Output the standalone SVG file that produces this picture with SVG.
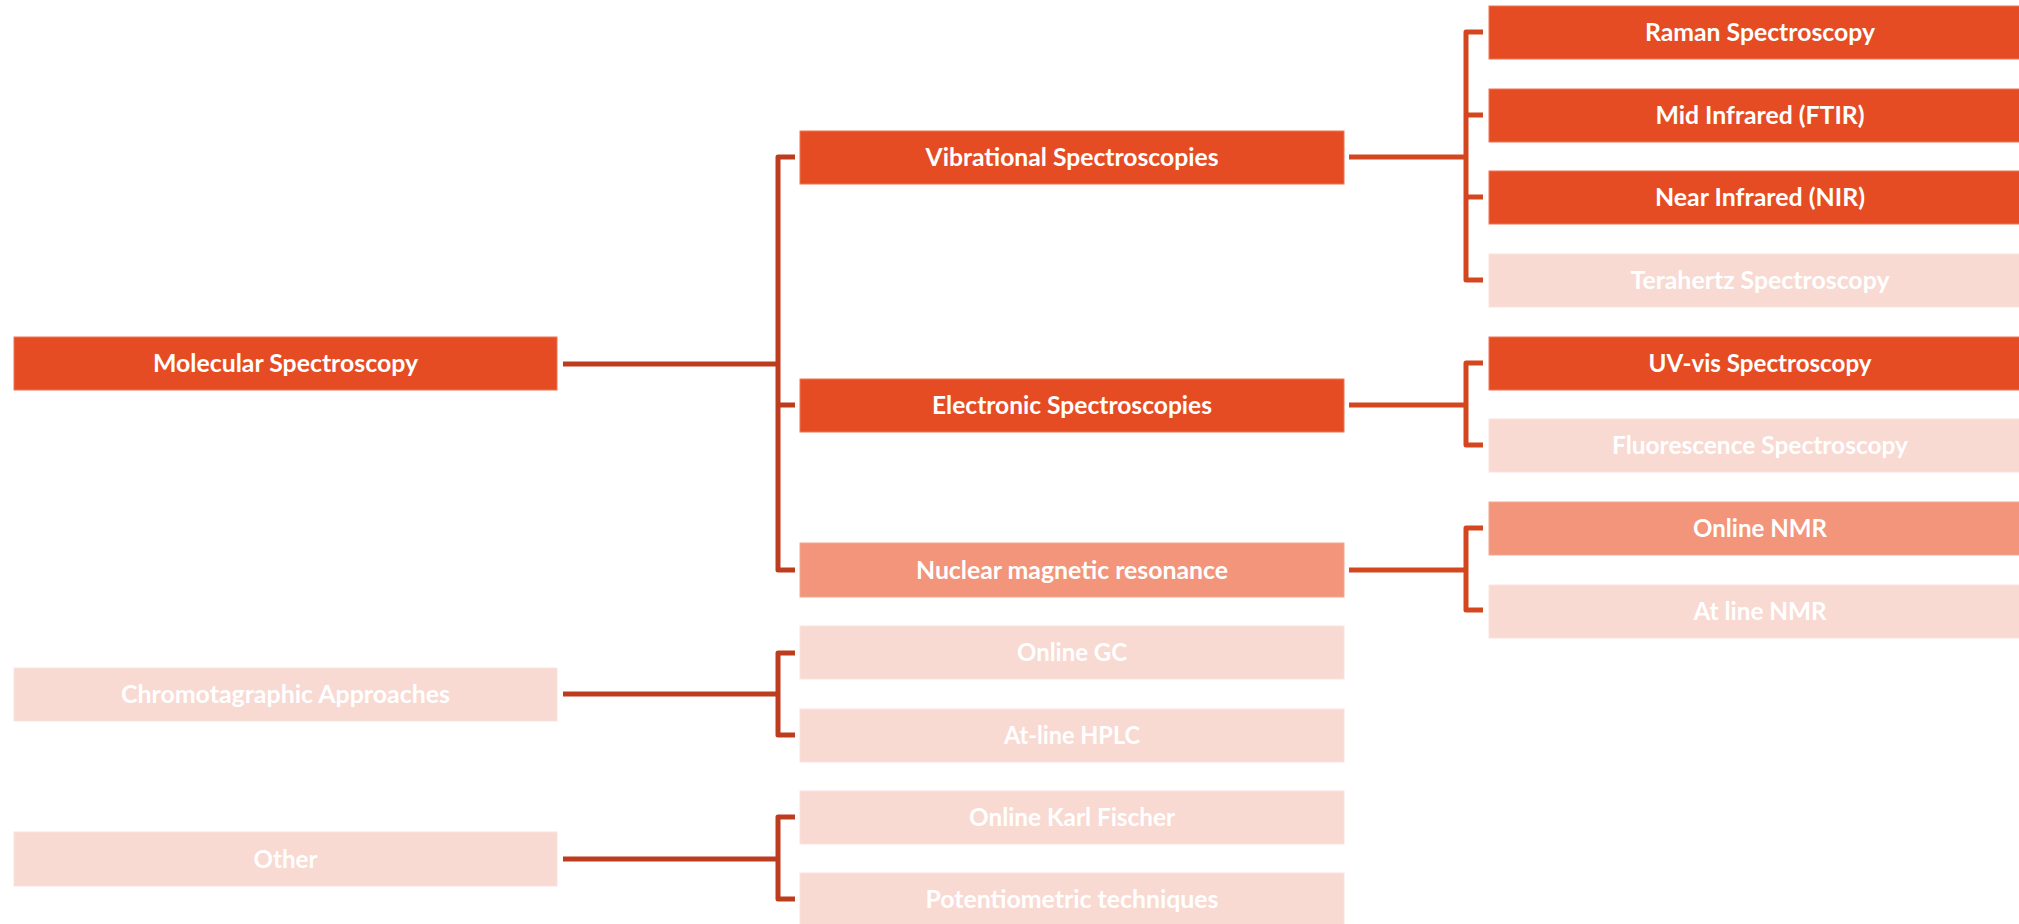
<svg xmlns="http://www.w3.org/2000/svg" width="2019" height="924" viewBox="0 0 2019 924">
<style>
.b{stroke-width:1}
.d{fill:#E64C24;stroke:#EE7453}
.m{fill:#F2957B;stroke:#F5A891}
.l{fill:#F8DAD3;stroke:#FAE3DD}
text{font-family:Lato,"Open Sans","Liberation Sans",sans-serif;font-weight:bold;font-size:24px;fill:#FFFFFF;text-anchor:middle}
.c{fill:none;stroke-width:5;stroke-linejoin:round;stroke-linecap:butt}
.c1{stroke:#BE3C1E}
.c2{stroke:#D4461F}
</style>
<rect width="2019" height="924" fill="#FFFFFF"/>
<g id="connectors">
<path class="c c1" d="M563,364 H778 M795,157 H778 V570 H795 M778,405 H795"/>
<path class="c c1" d="M563,694 H778 M795,653 H778 V735 H795"/>
<path class="c c1" d="M563,859 H778 M795,817 H778 V899 H795"/>
<path class="c c2" d="M1349,157 H1466 M1483,32 H1466 V280 H1483 M1466,115 H1483 M1466,197 H1483"/>
<path class="c c2" d="M1349,405 H1466 M1483,363 H1466 V445 H1483"/>
<path class="c c2" d="M1349,570 H1466 M1483,528 H1466 V610 H1483"/>
</g>
<g id="molecular"><rect class="b d" x="14" y="337" width="543" height="53"/><text x="285.5" y="372" textLength="265" lengthAdjust="spacingAndGlyphs">Molecular Spectroscopy</text></g>
<g id="chromatographic"><rect class="b l" x="14" y="668" width="543" height="53"/><text x="285.5" y="703" textLength="329" lengthAdjust="spacingAndGlyphs">Chromotagraphic Approaches</text></g>
<g id="other"><rect class="b l" x="14" y="832" width="543" height="54"/><text x="285.5" y="868" textLength="64" lengthAdjust="spacingAndGlyphs">Other</text></g>
<g id="vibrational"><rect class="b d" x="800" y="131" width="544" height="53"/><text x="1072" y="166" textLength="293" lengthAdjust="spacingAndGlyphs">Vibrational Spectroscopies</text></g>
<g id="electronic"><rect class="b d" x="800" y="379" width="544" height="53"/><text x="1072" y="414" textLength="280" lengthAdjust="spacingAndGlyphs">Electronic Spectroscopies</text></g>
<g id="nmr"><rect class="b m" x="800" y="543" width="544" height="54"/><text x="1072" y="579" textLength="312" lengthAdjust="spacingAndGlyphs">Nuclear magnetic resonance</text></g>
<g id="online-gc"><rect class="b l" x="800" y="626" width="544" height="53"/><text x="1072" y="661" textLength="110" lengthAdjust="spacingAndGlyphs">Online GC</text></g>
<g id="atline-hplc"><rect class="b l" x="800" y="709" width="544" height="53"/><text x="1072" y="744" textLength="136" lengthAdjust="spacingAndGlyphs">At-line HPLC</text></g>
<g id="online-kf"><rect class="b l" x="800" y="791" width="544" height="53"/><text x="1072" y="826" textLength="206" lengthAdjust="spacingAndGlyphs">Online Karl Fischer</text></g>
<g id="potentiometric"><rect class="b l" x="800" y="873" width="544" height="53"/><text x="1072" y="908" textLength="293" lengthAdjust="spacingAndGlyphs">Potentiometric techniques</text></g>
<g id="raman"><rect class="b d" x="1489" y="6" width="544" height="53"/><text x="1760" y="41" textLength="230" lengthAdjust="spacingAndGlyphs">Raman Spectroscopy</text></g>
<g id="mid-ir"><rect class="b d" x="1489" y="89" width="544" height="53"/><text x="1760" y="124" textLength="209" lengthAdjust="spacingAndGlyphs">Mid Infrared (FTIR)</text></g>
<g id="nir"><rect class="b d" x="1489" y="171" width="544" height="53"/><text x="1760" y="206" textLength="210" lengthAdjust="spacingAndGlyphs">Near Infrared (NIR)</text></g>
<g id="terahertz"><rect class="b l" x="1489" y="254" width="544" height="53"/><text x="1760" y="289" textLength="259" lengthAdjust="spacingAndGlyphs">Terahertz Spectroscopy</text></g>
<g id="uv-vis"><rect class="b d" x="1489" y="337" width="544" height="53"/><text x="1760" y="372" textLength="223" lengthAdjust="spacingAndGlyphs">UV-vis Spectroscopy</text></g>
<g id="fluorescence"><rect class="b l" x="1489" y="419" width="544" height="53"/><text x="1760" y="454" textLength="296" lengthAdjust="spacingAndGlyphs">Fluorescence Spectroscopy</text></g>
<g id="online-nmr"><rect class="b m" x="1489" y="502" width="544" height="53"/><text x="1760" y="537" textLength="134" lengthAdjust="spacingAndGlyphs">Online NMR</text></g>
<g id="atline-nmr"><rect class="b l" x="1489" y="585" width="544" height="53"/><text x="1760" y="620" textLength="133" lengthAdjust="spacingAndGlyphs">At line NMR</text></g>
</svg>
